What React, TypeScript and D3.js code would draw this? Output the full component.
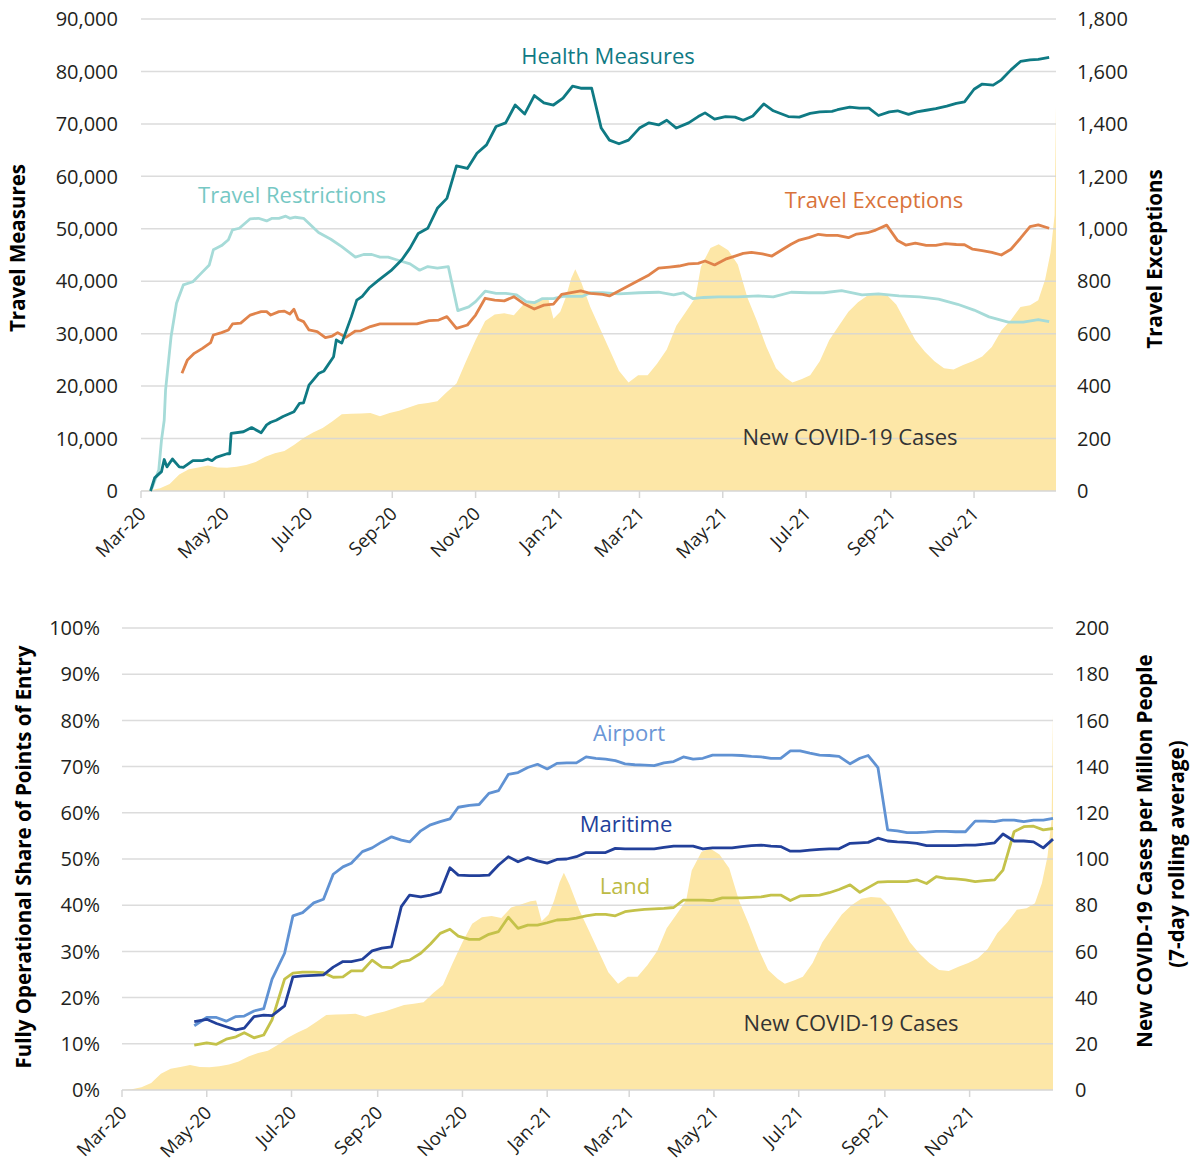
import * as d3 from "d3";

const FONT = "'Open Sans', 'Noto Sans', sans-serif";
const INK = "#231f20";
const GRID = "#d6d6d6";
const CASE_FILL = "#fde7a7";

// ---- top panel series (travel measures, weekly-ish) ----
const healthMeasures: [string, number][] = [
  ["2020-03-08", 0], ["2020-03-11", 2500], ["2020-03-16", 3700], ["2020-03-18", 6000],
  ["2020-03-20", 4600], ["2020-03-24", 6100], ["2020-03-29", 4600], ["2020-04-01", 4500],
  ["2020-04-08", 5800], ["2020-04-15", 5800], ["2020-04-19", 6100], ["2020-04-22", 5800],
  ["2020-04-25", 6400], ["2020-05-03", 7100], ["2020-05-05", 7100], ["2020-05-06", 11000],
  ["2020-05-15", 11300], ["2020-05-21", 12100], ["2020-05-28", 11100], ["2020-06-01", 12600],
  ["2020-06-04", 13100], ["2020-06-08", 13500], ["2020-06-13", 14200], ["2020-06-21", 15100],
  ["2020-06-25", 16700], ["2020-06-28", 16800], ["2020-07-02", 20200], ["2020-07-09", 22400],
  ["2020-07-13", 22900], ["2020-07-20", 25600], ["2020-07-22", 28800], ["2020-07-26", 28200],
  ["2020-08-02", 33200], ["2020-08-06", 36400], ["2020-08-10", 37100], ["2020-08-15", 38700],
  ["2020-08-22", 40200], ["2020-08-31", 42000], ["2020-09-08", 44100], ["2020-09-14", 46300],
  ["2020-09-20", 49100], ["2020-09-27", 50100], ["2020-10-04", 53900], ["2020-10-11", 55800],
  ["2020-10-18", 62000], ["2020-10-26", 61500], ["2020-11-02", 64400], ["2020-11-09", 66000],
  ["2020-11-16", 69500], ["2020-11-23", 70200], ["2020-11-30", 73600], ["2020-12-07", 71900],
  ["2020-12-14", 75400], ["2020-12-21", 74000], ["2020-12-28", 73600], ["2021-01-04", 74900],
  ["2021-01-11", 77200], ["2021-01-17", 76800], ["2021-01-25", 76800], ["2021-02-01", 69200],
  ["2021-02-07", 66900], ["2021-02-14", 66200], ["2021-02-21", 66900], ["2021-03-01", 69200],
  ["2021-03-08", 70200], ["2021-03-15", 69800], ["2021-03-21", 70700], ["2021-03-28", 69200],
  ["2021-04-06", 70200], ["2021-04-13", 71400], ["2021-04-18", 72100], ["2021-04-25", 70900],
  ["2021-05-03", 71400], ["2021-05-10", 71300], ["2021-05-16", 70700], ["2021-05-23", 71500],
  ["2021-05-31", 73800], ["2021-06-07", 72500], ["2021-06-18", 71400], ["2021-06-26", 71300],
  ["2021-07-04", 72000], ["2021-07-11", 72300], ["2021-07-20", 72400], ["2021-07-24", 72700],
  ["2021-08-02", 73200], ["2021-08-09", 73000], ["2021-08-16", 73000], ["2021-08-23", 71600],
  ["2021-08-31", 72300], ["2021-09-06", 72500], ["2021-09-14", 71800], ["2021-09-20", 72300],
  ["2021-09-27", 72600], ["2021-10-04", 72900], ["2021-10-12", 73400], ["2021-10-19", 73900],
  ["2021-10-25", 74200], ["2021-11-01", 76600], ["2021-11-07", 77600], ["2021-11-15", 77400],
  ["2021-11-21", 78400], ["2021-11-28", 80300], ["2021-12-05", 81900], ["2021-12-12", 82200],
  ["2021-12-18", 82300], ["2021-12-26", 82700],
];

const travelRestrictions: [string, number][] = [
  ["2020-03-09", 500], ["2020-03-14", 4000], ["2020-03-16", 9700], ["2020-03-18", 13500],
  ["2020-03-19", 19300], ["2020-03-23", 29400], ["2020-03-27", 35800], ["2020-04-01", 39300],
  ["2020-04-08", 39900], ["2020-04-14", 41500], ["2020-04-20", 43100], ["2020-04-23", 46000],
  ["2020-04-29", 46800], ["2020-05-04", 47900], ["2020-05-07", 49800], ["2020-05-12", 50100],
  ["2020-05-20", 51900], ["2020-05-26", 52000], ["2020-06-01", 51500], ["2020-06-05", 52000],
  ["2020-06-10", 52000], ["2020-06-15", 52400], ["2020-06-18", 52000], ["2020-06-22", 52200],
  ["2020-06-28", 52000], ["2020-07-09", 49300], ["2020-07-18", 48000], ["2020-07-26", 46600],
  ["2020-08-05", 44600], ["2020-08-11", 45100], ["2020-08-17", 45100], ["2020-08-23", 44600],
  ["2020-08-29", 44600], ["2020-09-04", 44100], ["2020-09-14", 43300], ["2020-09-21", 42100],
  ["2020-09-27", 42800], ["2020-10-04", 42500], ["2020-10-12", 42800], ["2020-10-19", 34400],
  ["2020-10-27", 35100], ["2020-11-01", 36100], ["2020-11-08", 38100], ["2020-11-16", 37700],
  ["2020-11-23", 37700], ["2020-12-01", 37400], ["2020-12-08", 36100], ["2020-12-14", 35900],
  ["2020-12-20", 36700], ["2020-12-28", 36700], ["2021-01-04", 37100], ["2021-01-18", 37100],
  ["2021-01-24", 37800], ["2021-02-02", 37800], ["2021-02-14", 37600], ["2021-03-01", 37800],
  ["2021-03-15", 37900], ["2021-03-26", 37400], ["2021-04-02", 37800], ["2021-04-09", 36700],
  ["2021-04-17", 36900], ["2021-04-28", 37000], ["2021-05-12", 37000], ["2021-05-27", 37200],
  ["2021-06-07", 37000], ["2021-06-20", 37900], ["2021-07-03", 37800], ["2021-07-14", 37800],
  ["2021-07-27", 38200], ["2021-08-11", 37400], ["2021-08-23", 37600], ["2021-09-07", 37200],
  ["2021-09-22", 37000], ["2021-10-06", 36600], ["2021-10-20", 35600], ["2021-11-01", 34500],
  ["2021-11-12", 33200], ["2021-11-26", 32200], ["2021-12-07", 32200], ["2021-12-18", 32700],
  ["2021-12-26", 32300],
];

const travelExceptions: [string, number][] = [
  ["2020-03-31", 449], ["2020-04-04", 500], ["2020-04-09", 525], ["2020-04-15", 544],
  ["2020-04-21", 566], ["2020-04-23", 595], ["2020-04-29", 604], ["2020-05-04", 614],
  ["2020-05-07", 637], ["2020-05-13", 640], ["2020-05-20", 671], ["2020-05-28", 684],
  ["2020-06-01", 684], ["2020-06-04", 671], ["2020-06-10", 684], ["2020-06-14", 686],
  ["2020-06-18", 675], ["2020-06-21", 693], ["2020-06-24", 655], ["2020-06-28", 646],
  ["2020-07-02", 614], ["2020-07-08", 608], ["2020-07-14", 585], ["2020-07-19", 591],
  ["2020-07-23", 604], ["2020-07-29", 586], ["2020-08-05", 610], ["2020-08-09", 611],
  ["2020-08-16", 627], ["2020-08-23", 637], ["2020-09-01", 637], ["2020-09-11", 637],
  ["2020-09-19", 637], ["2020-09-28", 650], ["2020-10-05", 652], ["2020-10-11", 665],
  ["2020-10-18", 620], ["2020-10-26", 633], ["2020-11-01", 671], ["2020-11-08", 735],
  ["2020-11-15", 728], ["2020-11-22", 725], ["2020-11-29", 741], ["2020-12-07", 712],
  ["2020-12-14", 694], ["2020-12-21", 709], ["2020-12-28", 713], ["2021-01-03", 750],
  ["2021-01-09", 756], ["2021-01-17", 763], ["2021-01-24", 754], ["2021-02-02", 750],
  ["2021-02-07", 744], ["2021-02-18", 774], ["2021-03-01", 805], ["2021-03-08", 824],
  ["2021-03-15", 850], ["2021-03-23", 854], ["2021-03-30", 858], ["2021-04-06", 866],
  ["2021-04-13", 868], ["2021-04-18", 877], ["2021-04-25", 862], ["2021-05-03", 884],
  ["2021-05-10", 896], ["2021-05-16", 906], ["2021-05-22", 910], ["2021-05-30", 904],
  ["2021-06-06", 896], ["2021-06-14", 922], ["2021-06-20", 941], ["2021-06-26", 957],
  ["2021-07-03", 966], ["2021-07-10", 979], ["2021-07-16", 975], ["2021-07-24", 975],
  ["2021-08-01", 966], ["2021-08-07", 980], ["2021-08-15", 985], ["2021-08-21", 995],
  ["2021-08-29", 1014], ["2021-09-06", 955], ["2021-09-12", 938], ["2021-09-19", 945],
  ["2021-09-27", 937], ["2021-10-04", 937], ["2021-10-11", 943], ["2021-10-19", 940],
  ["2021-10-25", 939], ["2021-10-31", 922], ["2021-11-07", 917], ["2021-11-14", 910],
  ["2021-11-21", 900], ["2021-11-28", 922], ["2021-12-05", 964], ["2021-12-12", 1008],
  ["2021-12-18", 1015], ["2021-12-26", 1002],
];

// ---- new COVID-19 cases per million (7-day rolling average) ----
const covidCases: [string, number][] = [
  ["2020-03-01", 0], ["2020-03-08", 0.3], ["2020-03-15", 1.2], ["2020-03-22", 3],
  ["2020-03-29", 7], ["2020-04-05", 9.2], ["2020-04-12", 10], ["2020-04-19", 10.8],
  ["2020-04-26", 10], ["2020-05-03", 9.8], ["2020-05-10", 10.3], ["2020-05-17", 11],
  ["2020-05-24", 12.3], ["2020-05-31", 14.5], ["2020-06-07", 16], ["2020-06-14", 17],
  ["2020-06-21", 19.5], ["2020-06-28", 22.5], ["2020-07-05", 24.8], ["2020-07-12", 26.7],
  ["2020-07-19", 29.5], ["2020-07-26", 32.5], ["2020-08-02", 32.7], ["2020-08-09", 32.8],
  ["2020-08-16", 33], ["2020-08-23", 31.7], ["2020-08-30", 33], ["2020-09-06", 34],
  ["2020-09-13", 35.4], ["2020-09-20", 36.8], ["2020-09-27", 37.3], ["2020-10-04", 38],
  ["2020-10-11", 42], ["2020-10-18", 45.5], ["2020-10-25", 55], ["2020-11-01", 64],
  ["2020-11-08", 72], ["2020-11-15", 74.8], ["2020-11-22", 75.3], ["2020-11-29", 74.5],
  ["2020-12-06", 79], ["2020-12-13", 80.3], ["2020-12-20", 81.7], ["2020-12-24", 82],
  ["2020-12-28", 73], ["2021-01-02", 76], ["2021-01-06", 82], ["2021-01-10", 90],
  ["2021-01-13", 94], ["2021-01-17", 89], ["2021-01-24", 78], ["2021-01-31", 69],
  ["2021-02-07", 60], ["2021-02-14", 51], ["2021-02-21", 46], ["2021-02-28", 49],
  ["2021-03-07", 49], ["2021-03-14", 54], ["2021-03-21", 60], ["2021-03-28", 70],
  ["2021-04-04", 76], ["2021-04-11", 82], ["2021-04-15", 95], ["2021-04-22", 103],
  ["2021-04-28", 104.6], ["2021-05-05", 102], ["2021-05-12", 96], ["2021-05-19", 82],
  ["2021-05-26", 72], ["2021-06-02", 61], ["2021-06-09", 52], ["2021-06-16", 48],
  ["2021-06-21", 46], ["2021-06-28", 47.5], ["2021-07-04", 49], ["2021-07-11", 55],
  ["2021-07-18", 64], ["2021-07-25", 70], ["2021-08-01", 76], ["2021-08-08", 80],
  ["2021-08-15", 82.8], ["2021-08-22", 83.5], ["2021-08-29", 83.2], ["2021-09-05", 79],
  ["2021-09-12", 71.5], ["2021-09-19", 64], ["2021-09-26", 59], ["2021-10-03", 55],
  ["2021-10-10", 52], ["2021-10-17", 51.5], ["2021-10-24", 53.4], ["2021-10-31", 55],
  ["2021-11-07", 57], ["2021-11-14", 61], ["2021-11-21", 68], ["2021-11-28", 72.5],
  ["2021-12-05", 78], ["2021-12-12", 78.7], ["2021-12-18", 80.8], ["2021-12-23", 89.5],
  ["2021-12-27", 101], ["2021-12-30", 117], ["2021-12-31", 163],
];

// ---- bottom panel: fully operational share of points of entry (weekly) ----
const portDates = [
  "2020-04-22", "2020-05-01", "2020-05-08", "2020-05-15", "2020-05-22", "2020-05-28",
  "2020-06-04", "2020-06-11", "2020-06-17", "2020-06-26", "2020-07-02", "2020-07-09",
  "2020-07-17", "2020-07-24", "2020-07-31", "2020-08-07", "2020-08-13", "2020-08-21",
  "2020-08-28", "2020-09-04", "2020-09-11", "2020-09-18", "2020-09-24", "2020-10-02",
  "2020-10-09", "2020-10-16", "2020-10-23", "2020-10-29", "2020-11-06", "2020-11-13",
  "2020-11-20", "2020-11-27", "2020-12-04", "2020-12-11", "2020-12-18", "2020-12-25",
  "2021-01-01", "2021-01-08", "2021-01-15", "2021-01-22", "2021-01-29", "2021-02-05",
  "2021-02-12", "2021-02-19", "2021-02-26", "2021-03-05", "2021-03-12", "2021-03-19",
  "2021-03-26", "2021-04-02", "2021-04-09", "2021-04-16", "2021-04-23", "2021-04-30",
  "2021-05-07", "2021-05-14", "2021-05-21", "2021-05-28", "2021-06-04", "2021-06-11",
  "2021-06-18", "2021-06-25", "2021-07-02", "2021-07-09", "2021-07-16", "2021-07-23",
  "2021-07-30", "2021-08-07", "2021-08-14", "2021-08-20", "2021-08-27", "2021-09-03",
  "2021-09-10", "2021-09-17", "2021-09-24", "2021-10-01", "2021-10-08", "2021-10-15",
  "2021-10-22", "2021-10-29", "2021-11-05", "2021-11-12", "2021-11-19", "2021-11-25",
  "2021-12-03", "2021-12-10", "2021-12-17", "2021-12-24", "2021-12-31",
];

const airport = [
  13.9, 15.7, 15.7, 14.9, 15.9, 16.0, 17.1, 17.6, 24.0, 29.6, 37.7, 38.4,
  40.5, 41.3, 46.7, 48.3, 49.1, 51.6, 52.4, 53.7, 54.8, 54.1, 53.7, 56.1,
  57.4, 58.1, 58.7, 61.2, 61.6, 61.8, 64.2, 64.8, 68.3, 68.7, 69.8, 70.5,
  69.5, 70.7, 70.8, 70.8, 72.1, 71.8, 71.6, 71.3, 70.6, 70.4, 70.3, 70.2,
  70.8, 71.1, 72.1, 71.6, 71.8, 72.5, 72.5, 72.5, 72.4, 72.2, 72.1, 71.8,
  71.8, 73.4, 73.4, 72.9, 72.5, 72.4, 72.2, 70.6, 71.8, 72.4, 69.8, 56.3,
  56.1, 55.7, 55.7, 55.8, 56.0, 56.0, 55.9, 55.9, 58.2, 58.2, 58.1, 58.4,
  58.4, 58.1, 58.4, 58.4, 58.8,
];

const maritime = [
  14.8, 15.3, 14.4, 13.7, 13.0, 13.4, 15.9, 16.2, 16.1, 18.2, 24.5, 24.7,
  24.8, 24.9, 26.6, 27.8, 27.8, 28.3, 30.1, 30.7, 31.0, 39.7, 42.2, 41.8,
  42.2, 42.8, 48.1, 46.5, 46.4, 46.4, 46.5, 48.7, 50.5, 49.4, 50.3, 49.6,
  49.1, 49.9, 50.0, 50.5, 51.4, 51.4, 51.4, 52.3, 52.2, 52.2, 52.2, 52.2,
  52.5, 52.8, 52.8, 52.8, 52.2, 52.4, 52.4, 52.4, 52.7, 52.9, 53.0, 52.8,
  52.7, 51.7, 51.7, 51.9, 52.1, 52.2, 52.2, 53.4, 53.5, 53.6, 54.5, 53.9,
  53.7, 53.6, 53.4, 52.9, 52.9, 52.9, 52.9, 53.0, 53.0, 53.2, 53.5, 55.4,
  53.9, 53.9, 53.7, 52.4, 54.3,
];

const land = [
  9.7, 10.2, 9.9, 11.0, 11.5, 12.4, 11.3, 11.9, 15.2, 24.0, 25.3, 25.5,
  25.5, 25.4, 24.4, 24.5, 25.8, 25.8, 28.1, 26.6, 26.5, 27.8, 28.1, 29.6,
  31.6, 33.9, 34.8, 33.3, 32.6, 32.6, 33.7, 34.3, 37.4, 35.0, 35.7, 35.7,
  36.2, 36.8, 36.9, 37.2, 37.7, 38.0, 38.0, 37.7, 38.6, 38.9, 39.1, 39.2,
  39.3, 39.5, 41.1, 41.1, 41.1, 41.0, 41.6, 41.6, 41.6, 41.7, 41.8, 42.2,
  42.2, 41.0, 42.0, 42.1, 42.2, 42.7, 43.4, 44.4, 42.8, 43.8, 45.0, 45.1,
  45.1, 45.1, 45.5, 44.7, 46.2, 45.8, 45.7, 45.5, 45.1, 45.3, 45.5, 47.6,
  55.9, 57.0, 57.1, 56.3, 56.6,
];

const measureTicks = d3.range(0, 90001, 10000);
const exceptionTicks = d3.range(0, 1801, 200);
const shareTicks = d3.range(0, 11).map(i => i / 10);
const caseTicks = d3.range(0, 201, 20);

const parse = d3.timeParse("%Y-%m-%d");
type Pt = { date: Date; value: number };
const toPts = (rows: [string, number][]): Pt[] => rows.map(([d, v]) => ({ date: parse(d)!, value: v }));
const zipPts = (dates: string[], vals: number[]): Pt[] =>
  dates.map((d, i) => ({ date: parse(d)!, value: vals[i] / 100 }));

const start = new Date(2020, 2, 1);
const end = new Date(2021, 11, 31);
const monthFmt = d3.timeFormat("%b-%y");

function XAxis({ x, y0 }: { x: d3.ScaleTime<number, number>; y0: number }) {
  const ticks = x.ticks(d3.timeMonth.every(2)!);
  const [r0, r1] = x.range();
  return (
    <g>
      <line x1={r0} x2={r1} y1={y0} y2={y0} stroke={GRID} strokeWidth={1.5} />
      {ticks.map(t => (
        <g key={+t}>
          <line x1={x(t)} x2={x(t)} y1={y0} y2={y0 + 7} stroke={GRID} strokeWidth={1.5} />
          <text
            transform={`translate(${x(t) + 6},${y0 + 24}) rotate(-45)`}
            textAnchor="end"
            fontSize={18.5}
            fill={INK}
          >
            {monthFmt(t)}
          </text>
        </g>
      ))}
    </g>
  );
}

function Grid({ x, y, ticks }: { x: d3.ScaleTime<number, number>; y: d3.ScaleLinear<number, number>; ticks: number[] }) {
  const [r0, r1] = x.range();
  return (
    <g>
      {ticks.slice(1).map(t => (
        <line key={t} x1={r0} x2={r1} y1={y(t)} y2={y(t)} stroke={GRID} strokeWidth={1.5} opacity={0.85} />
      ))}
    </g>
  );
}

function YLabels({ y, ticks, fmt, x, anchor }: {
  y: d3.ScaleLinear<number, number>; ticks: number[]; fmt: (n: number) => string; x: number; anchor: string;
}) {
  return (
    <g>
      {ticks.map(t => (
        <text key={t} x={x} y={y(t)} dy="0.36em" textAnchor={anchor} fontSize={20} fill={INK}>
          {fmt(t)}
        </text>
      ))}
    </g>
  );
}

export default function App() {
  // top panel
  const xTop = d3.scaleTime().domain([start, end]).range([141, 1056]);
  const yMeasures = d3.scaleLinear().domain([0, 90000]).range([491, 19]);
  const yExceptions = d3.scaleLinear().domain([0, 1800]).range([491, 19]);
  const yCasesTop = d3.scaleLinear().domain([0, 200]).range([491, 19]);

  // bottom panel
  const xBot = d3.scaleTime().domain([start, end]).range([122, 1053]);
  const yShare = d3.scaleLinear().domain([0, 1]).range([1090, 628]);
  const yCasesBot = d3.scaleLinear().domain([0, 200]).range([1090, 628]);

  const cases = toPts(covidCases);
  const areaTop = d3.area<Pt>().x(d => xTop(d.date)).y0(yCasesTop(0)).y1(d => yCasesTop(d.value));
  const areaBot = d3.area<Pt>().x(d => xBot(d.date)).y0(yCasesBot(0)).y1(d => yCasesBot(d.value));

  const lineMeasures = d3.line<Pt>().x(d => xTop(d.date)).y(d => yMeasures(d.value));
  const lineExceptions = d3.line<Pt>().x(d => xTop(d.date)).y(d => yExceptions(d.value));
  const lineShare = d3.line<Pt>().x(d => xBot(d.date)).y(d => yShare(d.value));

  const comma = d3.format(",");
  const pct = d3.format(".0%");

  const lw = 2.8;
  const titleSize = 20.5;

  return (
    <svg
      width={1192}
      height={1164}
      style={{ position: "absolute", left: 0, top: 0, background: "#fff" }}
      fontFamily={FONT}
    >
      {/* ---------- top panel ---------- */}
      <path d={areaTop(cases)!} fill={CASE_FILL} />
      <Grid x={xTop} y={yMeasures} ticks={measureTicks} />
      <XAxis x={xTop} y0={491} />
      <YLabels y={yMeasures} ticks={measureTicks} fmt={comma} x={118} anchor="end" />
      <YLabels y={yExceptions} ticks={exceptionTicks} fmt={comma} x={1077} anchor="start" />

      <path d={lineMeasures(toPts(travelRestrictions))!} fill="none" stroke="#a6dbd8" strokeWidth={lw} strokeLinejoin="round" />
      <path d={lineExceptions(toPts(travelExceptions))!} fill="none" stroke="#e0834b" strokeWidth={lw} strokeLinejoin="round" />
      <path d={lineMeasures(toPts(healthMeasures))!} fill="none" stroke="#0f7a84" strokeWidth={lw} strokeLinejoin="round" />

      <text x={608} y={64} textAnchor="middle" fontSize={22} fill="#0f7a84">Health Measures</text>
      <text x={292} y={203} textAnchor="middle" fontSize={22} fill="#76c8c4">Travel Restrictions</text>
      <text x={874} y={208} textAnchor="middle" fontSize={22} fill="#d9733a">Travel Exceptions</text>
      <text x={850} y={445} textAnchor="middle" fontSize={22} fill="#333">New COVID-19 Cases</text>

      <text transform="translate(25,248) rotate(-90)" textAnchor="middle" fontSize={titleSize} fontWeight="bold" fill="#000">
        Travel Measures
      </text>
      <text transform="translate(1162,259) rotate(-90)" textAnchor="middle" fontSize={titleSize} fontWeight="bold" fill="#000">
        Travel Exceptions
      </text>

      {/* ---------- bottom panel ---------- */}
      <path d={areaBot(cases)!} fill={CASE_FILL} />
      <Grid x={xBot} y={yShare} ticks={shareTicks} />
      <XAxis x={xBot} y0={1090} />
      <YLabels y={yShare} ticks={shareTicks} fmt={pct} x={100} anchor="end" />
      <YLabels y={yCasesBot} ticks={caseTicks} fmt={comma} x={1075} anchor="start" />

      <path d={lineShare(zipPts(portDates, land))!} fill="none" stroke="#c4c24a" strokeWidth={lw} strokeLinejoin="round" />
      <path d={lineShare(zipPts(portDates, airport))!} fill="none" stroke="#6092d3" strokeWidth={lw} strokeLinejoin="round" />
      <path d={lineShare(zipPts(portDates, maritime))!} fill="none" stroke="#22409a" strokeWidth={lw} strokeLinejoin="round" />

      <text x={629} y={741} textAnchor="middle" fontSize={22} fill="#6a96d6">Airport</text>
      <text x={626} y={832} textAnchor="middle" fontSize={22} fill="#22409a">Maritime</text>
      <text x={625} y={894} textAnchor="middle" fontSize={22} fill="#bcbb45">Land</text>
      <text x={851} y={1031} textAnchor="middle" fontSize={22} fill="#333">New COVID-19 Cases</text>

      <text transform="translate(31,857) rotate(-90)" textAnchor="middle" fontSize={titleSize} fontWeight="bold" fill="#000">
        Fully Operational Share of Points of Entry
      </text>
      <text transform="translate(1152,851) rotate(-90)" textAnchor="middle" fontSize={titleSize} fontWeight="bold" fill="#000">
        New COVID-19 Cases per Millon People
      </text>
      <text transform="translate(1184,854) rotate(-90)" textAnchor="middle" fontSize={titleSize} fontWeight="bold" fill="#000">
        (7-day rolling average)
      </text>
    </svg>
  );
}
